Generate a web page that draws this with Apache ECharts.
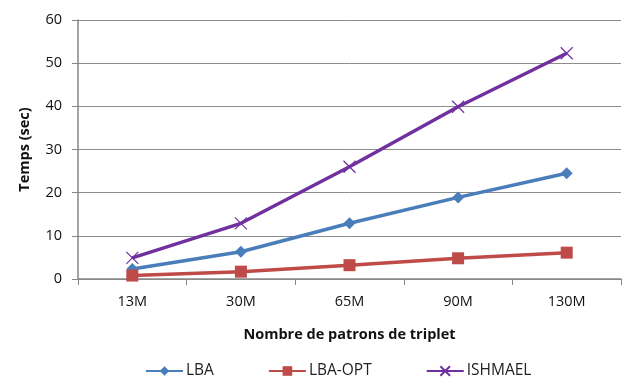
<!DOCTYPE html>
<html><head><meta charset="utf-8">
<script src="https://cdn.jsdelivr.net/npm/echarts@6/dist/echarts.min.js"></script>
<style>html,body{margin:0;padding:0;background:#fff}#c{width:625px;height:381px}</style>
</head><body><div id="c"></div>
<script>
const categories = ['13M', '30M', '65M', '90M', '130M'];
const lba = [2.3, 6.3, 12.9, 18.9, 24.5];
const lbaOpt = [0.8, 1.7, 3.2, 4.8, 6.1];
const ishmael = [4.9, 12.9, 26.0, 39.9, 52.3];
const seriesNames = ['LBA', 'LBA-OPT', 'ISHMAEL'];
const yTicks = {min: 0, max: 60, interval: 10};

const font = 'Open Sans';
const chart = echarts.init(document.getElementById('c'));
const crossPath = 'path://M0,0L10,10M10,0L0,10';
chart.setOption({
  animation: false,
  textStyle: {fontFamily: font},
  grid: {left: 78, right: 4, top: 20, bottom: 102, containLabel: false},
  legend: {
    bottom: -3, left: 140, itemGap: 54, itemWidth: 37, itemHeight: 12,
    textStyle: {fontFamily: font, fontSize: 15.5, color: '#222', padding: [0, 0, 0, -2]},
    data: seriesNames
  },
  xAxis: {
    type: 'category', data: categories, boundaryGap: true,
    name: 'Nombre de patrons de triplet', nameLocation: 'middle', nameGap: 48,
    nameTextStyle: {fontFamily: font, fontWeight: 'bold', fontSize: 14.5, color: '#111'},
    axisLine: {lineStyle: {color: '#868686', width: 1.5}},
    axisTick: {show: true, length: 6, alignWithLabel: false, lineStyle: {color: '#868686'}},
    axisLabel: {fontFamily: font, fontSize: 14.5, color: '#111', margin: 15}
  },
  yAxis: {
    type: 'value', min: yTicks.min, max: yTicks.max, interval: yTicks.interval,
    name: 'Temps (sec)', nameLocation: 'middle', nameGap: 46, nameRotate: 90,
    nameTextStyle: {fontFamily: font, fontWeight: 'bold', fontSize: 14.5, color: '#111'},
    axisLine: {show: true, lineStyle: {color: '#868686', width: 1.5}},
    axisTick: {show: true, length: 6, inside: false, lineStyle: {color: '#868686'}},
    axisLabel: {fontFamily: font, fontSize: 14.5, color: '#111', margin: 16},
    splitLine: {lineStyle: {color: '#8c8c8c', width: 1}}
  },
  series: [
    {name: seriesNames[0], type: 'line', data: lba, symbol: 'diamond', symbolSize: 12,
     lineStyle: {color: '#4A7EBB', width: 3.5}, itemStyle: {color: '#4A7EBB'}},
    {name: seriesNames[1], type: 'line', data: lbaOpt, symbol: 'rect', symbolSize: 12,
     lineStyle: {color: '#BE4B48', width: 3.5}, itemStyle: {color: '#BE4B48'}},
    {name: seriesNames[2], type: 'line', data: ishmael, symbol: crossPath, symbolSize: 12,
     lineStyle: {color: '#7030A0', width: 3.5},
     itemStyle: {color: '#7030A0', borderColor: '#7030A0', borderWidth: 1.2}}
  ]
});
</script></body></html>
